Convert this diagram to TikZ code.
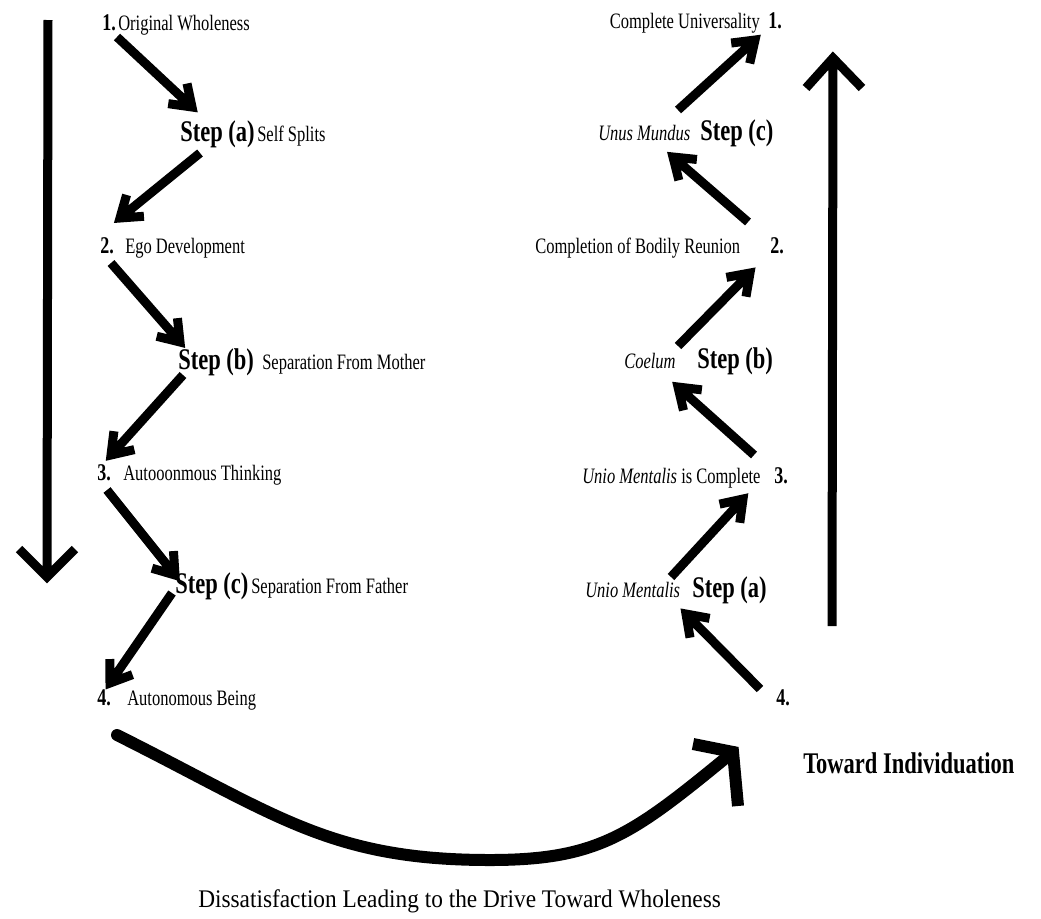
\documentclass[tikz,border=0pt]{standalone}
\usepackage{fontspec}
\setmainfont{Liberation Serif}
\newfontfamily\cf[FakeStretch=0.75]{Liberation Serif}
\newfontfamily\cfw[FakeStretch=0.92]{Liberation Serif}
\usetikzlibrary{calc}
\tikzset{
  lbl/.style={inner sep=0pt, font=\cf\fontsize{16.5}{18}\selectfont},
  num/.style={inner sep=0pt, font=\cf\bfseries\fontsize{18}{20}\selectfont},
  stp/.style={inner sep=0pt, font=\cf\bfseries\fontsize{22.5}{24}\selectfont},
  captext/.style={inner sep=0pt, font=\cfw\fontsize{19}{21}\selectfont},
  arrline/.style={line width=6.75pt, line join=miter},
  bigline/.style={line width=6.75pt, line join=miter},
  curveline/.style={line width=9pt, line join=miter},
}
\newcommand\myarrow[2]{%
  \draw[arrline] (#1) -- (#2)
    ($(#2)!18pt!35:(#1)$) -- (#2) -- ($(#2)!18pt!-35:(#1)$);}
\begin{document}
\begin{tikzpicture}[x=0.75pt,y=-0.75pt]
\useasboundingbox (0,0) rectangle (1041,918);

% ---- left column
\node[num, anchor=base west] (n1) at (102,30) {1.};
\node[lbl, anchor=base west] (t1) at (118,30) {Original Wholeness};
\node[stp, anchor=base west] (sa) at (180,141) {Step (a)};
\node[lbl, anchor=base west] (da) at (257,141) {Self Splits};
\node[num, anchor=base west] (n2) at (100,253) {2.};
\node[lbl, anchor=base west] (t2) at (125,253) {Ego Development};
\node[stp, anchor=base west] (sb) at (178,369) {Step (b)};
\node[lbl, anchor=base west] (db) at (262,369) {Separation From Mother};
\node[num, anchor=base west] (n3) at (97,480) {3.};
\node[lbl, anchor=base west] (t3) at (123,480) {Autooonmous Thinking};
\node[stp, anchor=base west] (sc) at (175,593) {Step (c)};
\node[lbl, anchor=base west] (dc) at (251,593) {Separation From Father};
\node[num, anchor=base west] (n4) at (97,705) {4.};
\node[lbl, anchor=base west] (t4) at (127,705) {Autonomous Being};

% ---- right column
\node[lbl, anchor=base east] (u1) at (760,28) {Complete Universality};
\node[num, anchor=base west] (m1) at (768,28) {1.};
\node[lbl, anchor=base west] (uc) at (598,140) {\itshape Unus Mundus};
\node[stp, anchor=base west] (rc) at (700,140) {Step (c)};
\node[lbl, anchor=base west] (u2) at (535,253) {Completion of Bodily Reunion};
\node[num, anchor=base west] (m2) at (770,253) {2.};
\node[lbl, anchor=base west] (ub) at (624,368) {\itshape Coelum};
\node[stp, anchor=base west] (rb) at (697,368) {Step (b)};
\node[lbl, anchor=base west] (u3) at (582,483) {\textit{Unio Mentalis} is Complete};
\node[num, anchor=base west] (m3) at (774,483) {3.};
\node[lbl, anchor=base west] (ua) at (585,597) {\itshape Unio Mentalis};
\node[stp, anchor=base west] (ra) at (692,597) {Step (a)};
\node[num, anchor=base west] (m4) at (776,705) {4.};

\node[stp, anchor=base west] (ti) at (803,773) {Toward Individuation};
\node[captext, anchor=base west] (dw) at (198,907) {Dissatisfaction Leading to the Drive Toward Wholeness};

% ---- arrow end points
\coordinate (a1s) at (117,37);  \coordinate (a1e) at (192,107);
\coordinate (a2s) at (200,153); \coordinate (a2e) at (120,218);
\coordinate (a3s) at (111,263); \coordinate (a3e) at (180,342);
\coordinate (a4s) at (183,375); \coordinate (a4e) at (111,455);
\coordinate (a5s) at (107,490); \coordinate (a5e) at (175,575);
\coordinate (a6s) at (172,593); \coordinate (a6e) at (110,683);

\coordinate (b1s) at (678,110); \coordinate (b1e) at (755,40);
\coordinate (b2s) at (748,222); \coordinate (b2e) at (673,157);
\coordinate (b3s) at (678,346); \coordinate (b3e) at (750,273);
\coordinate (b4s) at (754,455); \coordinate (b4e) at (678,387);
\coordinate (b5s) at (671,577); \coordinate (b5e) at (743,499);
\coordinate (b6s) at (760,689); \coordinate (b6e) at (686,614);

\myarrow{a1s}{a1e}
\myarrow{a2s}{a2e}
\myarrow{a3s}{a3e}
\myarrow{a4s}{a4e}
\myarrow{a5s}{a5e}
\myarrow{a6s}{a6e}
\myarrow{b1s}{b1e}
\myarrow{b2s}{b2e}
\myarrow{b3s}{b3e}
\myarrow{b4s}{b4e}
\myarrow{b5s}{b5e}
\myarrow{b6s}{b6e}

% ---- big vertical arrows
\coordinate (ltop) at (48,20);
\coordinate (ltip) at (47,577);
\coordinate (lbarbL) at (19,549);
\coordinate (lbarbR) at (75,549);
\draw[bigline] (ltop) -- (ltip) (lbarbL) -- (ltip) -- (lbarbR);

\coordinate (rbot) at (832,626);
\coordinate (rtip) at (833,58);
\coordinate (rbarbL) at (806,88);
\coordinate (rbarbR) at (862,88);
\draw[bigline] (rbot) -- (rtip) (rbarbL) -- (rtip) -- (rbarbR);

% ---- bottom curved arrow
\coordinate (cs) at (117,735);
\coordinate (cm) at (490,860);
\coordinate (ce) at (733,752);
\draw[curveline, line cap=round] (cs) .. controls (277,815) and (330,860) .. (cm)
   .. controls (600,860) and (633,834) .. (ce);
\coordinate (chL) at (693,744);
\coordinate (chR) at (738,806);
\draw[curveline] (chL) -- (ce) -- (chR);
\end{tikzpicture}
\end{document}
